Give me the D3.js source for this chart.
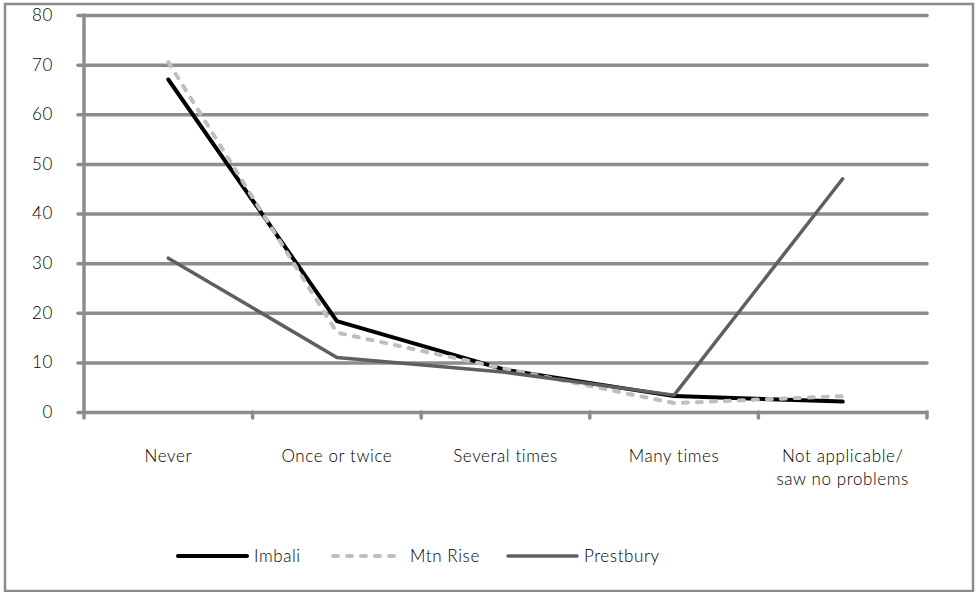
<!DOCTYPE html>
<html>
<head>
<meta charset="utf-8">
<script src="https://cdn.jsdelivr.net/npm/d3@7/dist/d3.min.js"></script>
<style>
  html, body { margin: 0; padding: 0; background: #fff; }
  svg text { font-family: Lato, "Open Sans", sans-serif; font-weight: 300; letter-spacing: 0.6px; fill: #000; }
</style>
</head>
<body>
<svg id="chart" width="976" height="592"></svg>
<script>
// Categories (x axis) and survey percentages per area
const categories = ["Never", "Once or twice", "Several times", "Many times", "Not applicable/\nsaw no problems"];
const imbali    = [67, 18.3, 8.5, 3.2, 2.1];
const mtnRise   = [70.5, 16, 8.7, 1.8, 3.2];
const prestbury = [31, 11, 8, 3.4, 47];
const yTicks    = [0, 10, 20, 30, 40, 50, 60, 70, 80];
const seriesNames = ["Imbali", "Mtn Rise", "Prestbury"];

const series = [
  { name: seriesNames[0], values: imbali,    color: "#000000", width: 4,   dash: null },
  { name: seriesNames[1], values: mtnRise,   color: "#bfbfbf", width: 4,   dash: "5,9" },
  { name: seriesNames[2], values: prestbury, color: "#5f5f5f", width: 3.5, dash: null }
];

const svg = d3.select("#chart");
const W = 976, H = 592;
const plot = { left: 84, right: 927, top: 15, bottom: 412 };
const gridColor = "#8c8c8c";

// Outer frame
svg.append("rect")
  .attr("x", 5).attr("y", 4).attr("width", W - 8).attr("height", H - 5)
  .attr("fill", "none").attr("stroke", gridColor).attr("stroke-width", 2.5);

const x = d3.scaleBand().domain(categories).range([plot.left, plot.right]).padding(0);
const y = d3.scaleLinear().domain([0, 80]).range([plot.bottom, plot.top]);

// Horizontal gridlines with short left ticks
const yAxis = d3.axisLeft(y).tickValues(yTicks).tickSize(-(plot.right - plot.left)).tickPadding(31).tickFormat(d3.format("d"));
const gy = svg.append("g").attr("transform", `translate(${plot.left},0)`).call(yAxis);
gy.select(".domain").remove();
gy.selectAll(".tick line")
  .attr("x1", -6)
  .attr("stroke", gridColor).attr("stroke-width", 3.5).attr("stroke-linecap", "round");
gy.selectAll(".tick text")
  .attr("font-size", 17).attr("fill", "#000")
  .style("font-family", "Lato, sans-serif");

// Vertical axis line
svg.append("line")
  .attr("x1", plot.left).attr("x2", plot.left)
  .attr("y1", plot.top).attr("y2", plot.bottom + 6)
  .attr("stroke", gridColor).attr("stroke-width", 3.5).attr("stroke-linecap", "round");

// Category boundary ticks on the x axis
const boundaries = categories.map(c => x(c)).concat([plot.right]).slice(1);
svg.selectAll("line.xtick").data(boundaries).enter().append("line")
  .attr("class", "xtick")
  .attr("x1", d => d).attr("x2", d => d)
  .attr("y1", plot.bottom).attr("y2", plot.bottom + 6)
  .attr("stroke", gridColor).attr("stroke-width", 3.5).attr("stroke-linecap", "round");

// Category labels
const lbl = svg.append("g").selectAll("text").data(categories).enter().append("text")
  .attr("x", d => x(d) + x.bandwidth() / 2)
  .attr("y", 462)
  .attr("text-anchor", "middle")
  .attr("font-size", 17);
lbl.each(function(d) {
  const parts = d.split("\n");
  const t = d3.select(this);
  parts.forEach((p, i) => {
    t.append("tspan").attr("x", x(d) + x.bandwidth() / 2).attr("dy", i === 0 ? 0 : 23).text(p);
  });
});

// Series lines
const line = d3.line()
  .x((d, i) => x(categories[i]) + x.bandwidth() / 2)
  .y(d => y(d));

series.forEach(s => {
  svg.append("path")
    .datum(s.values)
    .attr("d", line)
    .attr("fill", "none")
    .attr("stroke", s.color)
    .attr("stroke-width", s.width)
    .attr("stroke-linecap", "round")
    .attr("stroke-linejoin", "round")
    .attr("stroke-dasharray", s.dash);
});

// Legend
const legendX = [178, 333, 508];
const legend = svg.append("g").selectAll("g").data(series).enter().append("g")
  .attr("transform", (d, i) => `translate(${legendX[i]},556)`);
legend.append("line")
  .attr("x1", 0).attr("x2", 69).attr("y1", 0).attr("y2", 0)
  .attr("stroke", d => d.color).attr("stroke-width", d => d.width)
  .attr("stroke-linecap", "round")
  .attr("stroke-dasharray", d => d.dash);
legend.append("text")
  .attr("x", (d, i) => i === 1 ? 77 : 76).attr("y", 6)
  .attr("font-size", 17)
  .text(d => d.name);
</script>
</body>
</html>
